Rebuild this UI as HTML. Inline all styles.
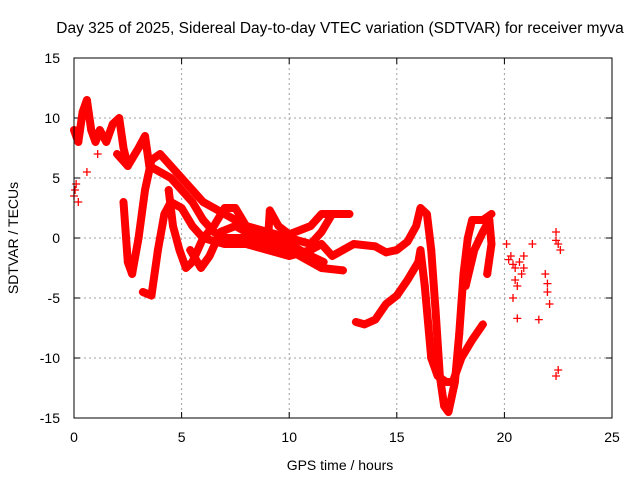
<!DOCTYPE html>
<html><head><meta charset="utf-8"><style>
body{margin:0;background:#fff}
svg{display:block;font-family:"Liberation Sans",sans-serif}
</style></head><body>
<svg id="chart" width="640" height="480" viewBox="0 0 640 480">
<text x="340" y="33" font-size="15.5" text-anchor="middle">Day 325 of 2025, Sidereal Day-to-day VTEC variation (SDTVAR) for receiver myva</text>
<g id="grid"></g>
<g id="axes"></g>
<g id="marks"></g>
<rect x="74" y="58" width="538" height="360" fill="none" stroke="#000" stroke-width="1"/>
<text x="340" y="470" font-size="14" text-anchor="middle">GPS time / hours</text>
<text x="18" y="238" font-size="14" text-anchor="middle" transform="rotate(-90 18 238)">SDTVAR / TECUs</text>
</svg>
<script>
const xTicks=[0,5,10,15,20,25];
const yTicks=[-15,-10,-5,0,5,10,15];
const trackA=[[0,9],[0.2,8],[0.4,10.5],[0.6,11.5],[0.8,9],[1.0,8],[1.2,9],[1.5,8],[1.8,9.5],[2.1,10],[2.3,7.5],[2.5,6]];
const trackB=[[2.0,7],[2.5,6],[3.0,7.5],[3.3,8.5],[3.5,6],[4.0,5.5],[4.5,5],[5,4],[5.5,3],[6,1.5],[6.5,0.5],[7,0],[8,0],[9,-0.5],[10,-1],[11,-2],[11.5,-2.5],[12.5,-2.7]];
const trackC=[[2.3,3],[2.5,-2],[2.7,-3],[3,0],[3.3,4],[3.6,6.5],[4,7],[4.5,6],[5,5],[5.5,4],[6,3],[7,2],[8,1],[9,0.5],[10,0],[11,-0.5],[11.5,0.5],[12,2],[12.8,2]];
const trackD=[[3.2,-4.5],[3.6,-4.8],[3.9,-1],[4.2,2],[4.5,3],[5,2.5],[5.5,1],[6,0],[7,-0.5],[8,-0.5],[9,-1],[10,-1.5],[11,-1],[11.5,-0.5],[12,-1.5],[12.5,-1],[13,-0.5],[14,-0.7],[14.5,-1.2],[15,-1],[15.5,-0.3],[15.9,1],[16.1,2.5],[16.4,2],[16.6,-1],[16.8,-6],[17.0,-11.5],[17.2,-14],[17.4,-14.5],[17.7,-12],[17.9,-8],[18.1,-3],[18.3,0],[18.5,1.5],[19,1.5],[19.4,2]];
const trackE=[[4.4,4],[4.6,1],[4.9,-1],[5.2,-2.5],[5.5,-2],[6,0],[6.5,1],[7,2.5],[7.5,2.5],[8,1],[9,0],[10,-0.5],[11,-1.5],[11.6,-2]];
const trackF=[[5.4,-1],[5.9,-2.5],[6.3,-1.5],[6.8,0.5],[7.5,1],[8,0.5],[9,-0.5],[9.1,2.3],[9.5,1],[10,0.3],[11,1],[11.5,2],[12.5,2]];
const trackG=[[13.1,-7],[13.5,-7.2],[14,-6.8],[14.5,-5.5],[15,-4.8],[15.5,-3.5],[16,-2],[16.1,-1],[16.3,-4],[16.6,-10],[16.9,-11.5],[17.3,-12],[17.6,-12],[18,-10],[18.5,-8.5],[19,-7.2]];
const trackH=[[18.2,-4],[18.6,-1],[19,0.5],[19.3,1.5],[19.4,-0.5],[19.2,-3]];
const scatter=[[0,3.5],[0.1,4.5],[0.2,3],[0.05,4],[0.6,5.5],[1.1,7],[20.1,-0.5],[20.2,-1.8],[20.3,-1.5],[20.4,-2.2],[20.5,-2.5],[20.6,-4],[20.7,-2],[20.8,-3],[20.4,-5],[20.5,-3.5],[20.6,-6.7],[20.9,-1.5],[20.9,-2.5],[21.3,-0.5],[21.6,-6.8],[21.9,-3],[22,-4.5],[22.1,-5.5],[22.0,-3.8],[22.4,0.5],[22.5,-0.5],[22.6,-1],[22.4,-0.2],[22.4,-11.5],[22.5,-11]];
const tracks=[trackA,trackB,trackC,trackD,trackE,trackF,trackG,trackH];
const X0=74,X1=612,Y0=418,Y1=58,xmin=0,xmax=25,ymin=-15,ymax=15;
function sx(v){return X0+(v-xmin)/(xmax-xmin)*(X1-X0);}
function sy(v){return Y0-(v-ymin)/(ymax-ymin)*(Y0-Y1);}
const NS='http://www.w3.org/2000/svg';
function el(t,a,p){const e=document.createElementNS(NS,t);for(const k in a)e.setAttribute(k,a[k]);p.appendChild(e);return e;}
const grid=document.getElementById('grid'),axes=document.getElementById('axes'),marks=document.getElementById('marks');
xTicks.forEach(t=>{
 if(t>xmin&&t<xmax){const g=el('line',{x1:sx(t),x2:sx(t),y1:Y1,y2:Y0,stroke:'#a0a0a0','stroke-dasharray':'2,3'},grid);
 
 }
 const tk=el('line',{x1:sx(t),x2:sx(t),y1:Y0,y2:Y0-6,stroke:'#000'},axes);
 
 
 const tk2=el('line',{x1:sx(t),x2:sx(t),y1:Y1,y2:Y1+6,stroke:'#000'},axes);
 
 
 const l=el('text',{x:sx(t),y:Y0+24,'font-size':14,'text-anchor':'middle'},axes);l.textContent=t;
 
 
});
yTicks.forEach(t=>{
 if(t>ymin&&t<ymax){const g=el('line',{x1:X0,x2:X1,y1:sy(t),y2:sy(t),stroke:'#a0a0a0','stroke-dasharray':'2,3'},grid);
 
 }
 const tk=el('line',{x1:X0,x2:X0+6,y1:sy(t),y2:sy(t),stroke:'#000'},axes);
 
 
 const tk2=el('line',{x1:X1,x2:X1-6,y1:sy(t),y2:sy(t),stroke:'#000'},axes);
 
 
 const l=el('text',{x:X0-14,y:sy(t)+5,'font-size':14,'text-anchor':'end'},axes);l.textContent=t;
 
 
});
function plus(x,y){
 const p=el('path',{d:`M${x-4},${y}h8M${x},${y-4}v8`,stroke:'#f00','stroke-width':1.3},marks);
 
 
}
tracks.forEach((tr,i)=>{
 const pl=el('polyline',{points:tr.map(p=>sx(p[0])+','+sy(p[1])).join(' '),fill:'none',stroke:'#f00','stroke-width':8,'stroke-linejoin':'round','stroke-linecap':'round'},marks);
 
 
 tr.forEach(p=>plus(sx(p[0]),sy(p[1])));
});
scatter.forEach(p=>plus(sx(p[0]),sy(p[1])));
</script>
</body></html>
